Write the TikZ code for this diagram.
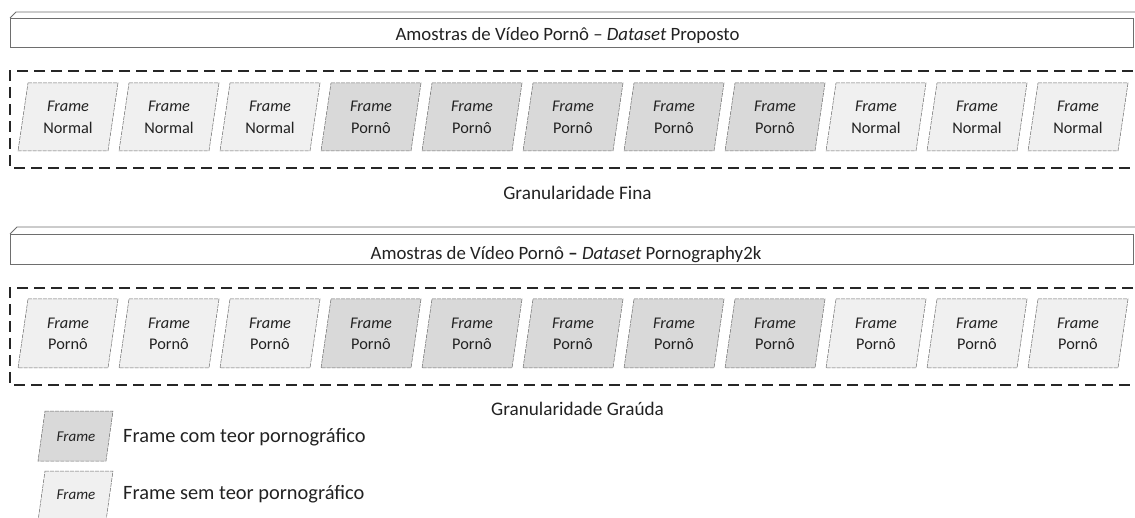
\documentclass[tikz,border=0pt]{standalone}
\usepackage{fontspec}
\setmainfont{Carlito}
\definecolor{barline}{HTML}{6E6E6E}
\definecolor{fLight}{HTML}{F0F0F0}
\definecolor{fDark}{HTML}{D9D9D9}
\definecolor{fEdge}{HTML}{6A6A6A}
\definecolor{ink}{HTML}{222222}
\begin{document}
\begin{tikzpicture}[x=1pt,y=-1pt,
  barface/.style={draw=barline, fill=white, line width=0.9pt},
  grpbox/.style={draw=black!85, line width=1.4pt, dash pattern=on 11pt off 6pt},
  framelight/.style={fill=fLight, draw=fEdge, line width=0.5pt, dash pattern=on 4pt off 1pt},
  framedark/.style={fill=fDark, draw=fEdge, line width=0.5pt, dash pattern=on 4pt off 1pt},
  frametext/.style={font=\fontsize{16.3}{21.5}\selectfont, align=center, text=ink, inner sep=0pt},
  caption/.style={text=ink, inner sep=0pt, anchor=base},
  legendtext/.style={font=\fontsize{20.4}{24}\selectfont, text=ink, inner sep=0pt, anchor=west},
  legendframe/.style={font=\fontsize{15}{16}\selectfont\itshape, text=ink, inner sep=0pt}]
\useasboundingbox (0,0) rectangle (1135,518);
\clip (0,0) rectangle (1135,518);

% frame parallelogram: #1 name, #2 left x of top edge, #3 top y, #4 height, #5 style, #6 text
\newcommand\vidframe[6]{%
  \path[#5] (#2,#3) -- ++(90,0) -- ++(-10,#4) -- ++(-90,0) -- cycle;
  \node[frametext] (#1) at (#2+40,#3+0.5*#4+0.5) {\textit{Frame}\\#6};}

% ---- proposed dataset ----
\draw[barface] (10,18) -- (16,12) -- (1150,12);
\draw[barface] (10,18) rectangle (1133,47);
\node[caption, font=\fontsize{18.8}{22}\selectfont] (t1) at (567.5,41)
  {Amostras de Vídeo Pornô – \textit{Dataset} Proposto};

\draw[grpbox] (1150,71) -- (10,71) -- (10,168) -- (1150,168);
\foreach \i/\s/\t in {0/framelight/Normal,1/framelight/Normal,2/framelight/Normal,
    3/framedark/Pornô,4/framedark/Pornô,5/framedark/Pornô,6/framedark/Pornô,7/framedark/Pornô,
    8/framelight/Normal,9/framelight/Normal,10/framelight/Normal}
  {\vidframe{a\i}{28+101*\i}{83}{68}{\s}{\t}}
\node[caption, font=\fontsize{19.2}{22}\selectfont] (g1) at (577.5,200) {Granularidade Fina};

% ---- Pornography2k dataset ----
\draw[barface] (10,234) -- (17,227) -- (1150,227);
\draw[barface] (10,234) rectangle (1133,264);
\node[caption, font=\fontsize{18.8}{22}\selectfont] (t2) at (566,259.5)
  {Amostras de Vídeo Pornô \textbf{–} \textit{Dataset} Pornography2k};

\draw[grpbox] (1150,288) -- (10,288) -- (10,385) -- (1150,385);
\foreach \i/\s in {0/framelight,1/framelight,2/framelight,
    3/framedark,4/framedark,5/framedark,6/framedark,7/framedark,
    8/framelight,9/framelight,10/framelight}
  {\vidframe{b\i}{28+101*\i}{299}{69}{\s}{Pornô}}
\node[caption, font=\fontsize{19.2}{22}\selectfont] (g2) at (577.5,415.5) {Granularidade Graúda};

% ---- legend ----
\path[framedark] (45,411) -- (113,411) -- (106,461) -- (38,461) -- cycle;
\node[legendframe] (lf1) at (76,437) {Frame};
\node[legendtext] (ll1) at (123,437) {Frame com teor pornográfico};
\path[framelight] (45,471) -- (113,471) -- (106,521) -- (38,521) -- cycle;
\node[legendframe] (lf2) at (76,495) {Frame};
\node[legendtext] (ll2) at (123,494) {Frame sem teor pornográfico};
\end{tikzpicture}
\end{document}
